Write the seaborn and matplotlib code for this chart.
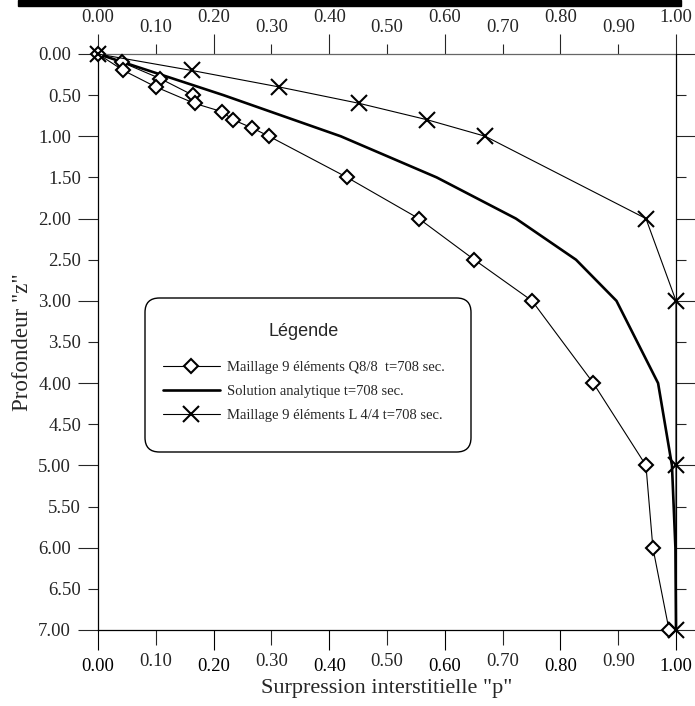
import matplotlib
matplotlib.use("Agg")
import matplotlib.pyplot as plt
import seaborn as sns
import numpy as np
import pandas as pd
from matplotlib.ticker import FixedLocator, FormatStrFormatter
from matplotlib.font_manager import FontProperties
from matplotlib.patches import Rectangle, FancyBboxPatch

# ---------------- data ----------------
q8_depth = [0.5, 0.3, 0.1, 0.0, 0.2, 0.4, 0.6, 0.7, 0.8, 0.9, 1.0, 1.5, 2.0, 2.5, 3.0, 4.0, 5.0, 6.0, 7.0]
q8_p = [0.164, 0.108, 0.041, 0.0, 0.044, 0.100, 0.167, 0.214, 0.234, 0.267, 0.296,
        0.431, 0.555, 0.651, 0.751, 0.857, 0.948, 0.960, 0.988]

ana_depth = [0.0, 0.5, 1.0, 1.5, 2.0, 2.5, 3.0, 4.0, 5.0, 6.0, 7.0]
ana_p = [0.0, 0.217, 0.420, 0.586, 0.723, 0.827, 0.897, 0.969, 0.993, 0.999, 1.0]

l4_depth = [0.0, 0.2, 0.4, 0.6, 0.8, 1.0, 2.0, 3.0, 5.0, 7.0]
l4_p = [0.0, 0.162, 0.313, 0.452, 0.570, 0.670, 0.948, 1.0, 1.0, 1.0]

series_labels = ["Maillage 9 éléments Q8/8  t=708 sec.",
                 "Solution analytique t=708 sec.",
                 "Maillage 9 éléments L 4/4 t=708 sec."]
legend_title = "Légende"
x_label = 'Surpression interstitielle "p"'
y_label = 'Profondeur "z"'

x_major = [0.0, 0.2, 0.4, 0.6, 0.8, 1.0]
x_minor = [0.1, 0.3, 0.5, 0.7, 0.9]
y_major = [0, 1, 2, 3, 4, 5, 6, 7]
y_minor = [0.5, 1.5, 2.5, 3.5, 4.5, 5.5, 6.5]

# ---------------- style ----------------
sns.set_style("ticks")
plt.rcParams["font.family"] = ["Liberation Serif", "DejaVu Serif"]

W, H = 695, 706
fig = plt.figure(figsize=(W / 100, H / 100), dpi=100)
ax = fig.add_axes([98 / W, 1 - 630 / H, 578 / W, 576 / H])

sns.lineplot(x=q8_p, y=q8_depth, sort=False, estimator=None, ax=ax, color="black",
             linewidth=0.8, marker="D", markersize=7, markerfacecolor="white",
             markeredgecolor="black", markeredgewidth=1.5, clip_on=False,
             label=series_labels[0], zorder=3)
sns.lineplot(x=ana_p, y=ana_depth, sort=False, estimator=None, ax=ax, color="black",
             linewidth=1.9, clip_on=False, label=series_labels[1], zorder=2)
sns.lineplot(x=l4_p, y=l4_depth, sort=False, estimator=None, ax=ax, color="black",
             linewidth=0.8, marker="x", markersize=11, markeredgecolor="black",
             markeredgewidth=1.5, clip_on=False, label=series_labels[2], zorder=3)

ax.set_xlim(0, 1)
ax.set_ylim(7, 0)

TS = 13.5
# bottom x axis
ax.xaxis.set_major_locator(FixedLocator(x_major))
ax.xaxis.set_minor_locator(FixedLocator(x_minor))
ax.xaxis.set_major_formatter(FormatStrFormatter("%.2f"))
ax.xaxis.set_minor_formatter(FormatStrFormatter("%.2f"))
ax.tick_params(axis="x", which="major", direction="out", length=14.4, width=0.8,
               pad=5.5, labelsize=TS, colors="black")
ax.tick_params(axis="x", which="minor", direction="out", length=10.8, width=0.8,
               pad=5.5, labelsize=TS, labelbottom=True)

# y axis (left + right ticks)
ax.yaxis.set_major_locator(FixedLocator(y_major))
ax.yaxis.set_minor_locator(FixedLocator(y_minor))
ax.yaxis.set_major_formatter(FormatStrFormatter("%.2f"))
ax.yaxis.set_minor_formatter(FormatStrFormatter("%.2f"))
ax.tick_params(axis="y", which="major", direction="out", length=14.4, width=0.8,
               pad=5, labelsize=TS, right=True, left=True)
ax.tick_params(axis="y", which="minor", direction="out", length=7.2, width=0.8,
               pad=5, labelsize=TS, right=True, left=True, labelleft=True)

# top x axis
top = ax.secondary_xaxis("top")
top.xaxis.set_major_locator(FixedLocator(x_major))
top.xaxis.set_minor_locator(FixedLocator(x_minor))
top.xaxis.set_major_formatter(FormatStrFormatter("%.2f"))
top.xaxis.set_minor_formatter(FormatStrFormatter("%.2f"))
top.tick_params(axis="x", which="major", direction="out", length=14.4, width=0.8,
                pad=5.5, labelsize=TS)
top.tick_params(axis="x", which="minor", direction="out", length=7.2, width=0.8,
                pad=5.5, labelsize=TS)
top.spines["top"].set_color("#666666")
top.spines["top"].set_linewidth(0.9)

for s in ["left", "right", "bottom"]:
    ax.spines[s].set_visible(True)
    ax.spines[s].set_color("black")
    ax.spines[s].set_linewidth(0.9)
ax.spines["top"].set_visible(False)

ax.set_xlabel(x_label, fontsize=16)
ax.set_ylabel(y_label, fontsize=16.5)
ax.xaxis.set_label_coords(0.5, -0.085)
ax.yaxis.set_label_coords(-0.112, 0.5)

# legend frame (rounded box) drawn separately
frame = FancyBboxPatch(((145 - 98) / 578, (630 - 452) / 576),
                       (471 - 145) / 578, (452 - 298) / 576,
                       boxstyle="round,pad=0,rounding_size=0.025",
                       transform=ax.transAxes, facecolor="white", edgecolor="black",
                       linewidth=1.0, zorder=4, clip_on=False)
ax.add_patch(frame)

handles, labels = ax.get_legend_handles_labels()
leg = ax.legend(handles, labels, loc="upper left",
                bbox_to_anchor=((163 - 98) / 578, (630 - 323) / 576),
                borderaxespad=0, borderpad=0, title=legend_title,
                prop=FontProperties(family="Liberation Serif", size=10.5),
                title_fontproperties=FontProperties(family="Liberation Sans", size=13),
                frameon=False, labelspacing=0.75, handlelength=3.9, handletextpad=0.5)
leg.set_zorder(5)
leg._legend_box.sep = 15

# black bar at very top (cropped page artifact)
fig.patches.append(Rectangle((18 / W, 1 - 6 / H), (681 - 18) / W, 6 / H,
                             transform=fig.transFigure, color="black", zorder=10))

fig.savefig("out.png", dpi=100)
